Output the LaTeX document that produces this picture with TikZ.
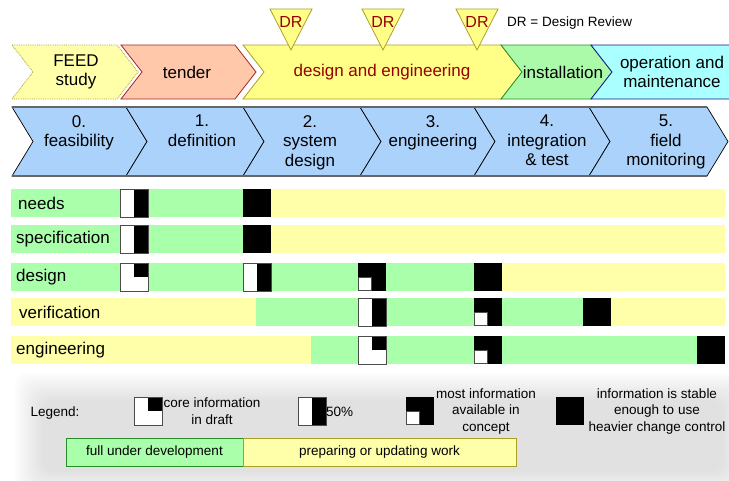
\documentclass[tikz,border=0pt]{standalone}
\usepackage{fontspec}
\setmainfont{Liberation Sans}
\usepackage{tikz}
\usetikzlibrary{positioning}
\definecolor{FeedFill}{RGB}{255,255,170}
\definecolor{TenderFill}{RGB}{255,200,170}
\definecolor{TenderLine}{RGB}{160,40,40}
\definecolor{DesignFill}{RGB}{255,255,136}
\definecolor{OliveLine}{RGB}{170,160,40}
\definecolor{InstallFill}{RGB}{170,250,170}
\definecolor{GreenLine}{RGB}{40,140,40}
\definecolor{OpsFill}{RGB}{170,255,255}
\definecolor{OpsLine}{RGB}{20,20,150}
\definecolor{StepFill}{RGB}{170,210,250}
\definecolor{DarkRed}{RGB}{153,0,0}
\definecolor{BarGreen}{RGB}{170,255,170}
\definecolor{BarYellow}{RGB}{255,255,170}
\tikzstyle{phasetext} = [font=\fontsize{17}{19.5}\selectfont, align=center, inner sep=0pt]
\tikzstyle{steptext} = [phasetext, anchor=north]
\tikzstyle{rowtext} = [font=\fontsize{17}{19}\selectfont, anchor=west, inner sep=0pt]
\tikzstyle{legendtext} = [font=\fontsize{13.5}{16.5}\selectfont, align=center, inner sep=0pt]
\tikzstyle{drtext} = [font=\fontsize{16}{18}\selectfont, text=DarkRed, inner sep=0pt]
\tikzstyle{drmark} = [fill=DesignFill, draw=OliveLine, line width=0.8pt]
\tikzstyle{stepbox} = [fill=StepFill, draw=black, line width=0.7pt]
\tikzstyle{stepedge} = [draw=black!60, line width=1.6pt]
\tikzstyle{iconline} = [draw=black!70, line width=0.9pt]
\tikzstyle{legendbox} = [legendtext, line width=0.9pt, minimum height=28pt]
% chevron: style, left x, right x, top y, bottom y, middle y
\newcommand{\chev}[6]{\filldraw[#1] (#2,#4) -- (#3,#4) -- (#3+21,#6) -- (#3,#5) -- (#2,#5) -- (#2+21,#6) -- cycle;}
% status icons, given by their top left corner
\newcommand{\icdraft}[2]{\fill[white] (#1,#2) rectangle ++(28,28); \fill[black] (#1+14,#2) rectangle ++(14,14); \draw[iconline] (#1,#2) rectangle ++(28,28);}
\newcommand{\ichalf}[2]{\fill[white] (#1,#2) rectangle ++(14,28); \fill[black] (#1+14,#2) rectangle ++(14,28); \draw[iconline] (#1,#2) rectangle ++(28,28);}
\newcommand{\icmost}[2]{\fill[black] (#1,#2) rectangle ++(28,28); \filldraw[white, draw=black!70, line width=0.6pt] (#1+0.5,#2+14) rectangle ++(13,13.5);}
\newcommand{\icstable}[2]{\fill[black] (#1,#2) rectangle ++(28,28);}

\begin{document}
\begin{tikzpicture}[x=1pt, y=-1pt]
  \useasboundingbox (0,0) rectangle (729,480);

  % project phases
  \chev{fill=FeedFill, draw=OliveLine, densely dotted, line width=0.8pt}{12}{117}{45}{99}{72}
  \chev{fill=TenderFill, draw=TenderLine, line width=0.8pt}{121}{235}{45}{99}{72}
  \chev{fill=DesignFill, draw=OliveLine, line width=0.8pt}{243}{501}{45}{99}{72}
  \chev{fill=InstallFill, draw=GreenLine, line width=0.8pt}{501}{591}{45}{99}{72}
  \filldraw[fill=OpsFill, draw=OpsLine, line width=0.8pt] (591,45) -- (730,45) -- (730,99) -- (591,99) -- (612,72) -- cycle;
  \node (feed) [phasetext] at (76,72) {FEED\\study};
  \node (tender) [phasetext] at (187,72) {tender};
  \node (designeng) [phasetext, text=DarkRed] at (382,72) {design and engineering};
  \node (install) [phasetext] at (563,72) {installation};
  \node (operation) [phasetext] at (672,72) {operation and\\maintenance};

  % design reviews
  \filldraw[drmark] (270,9) -- (312,9) -- (291,50) -- cycle;
  \filldraw[drmark] (362,9) -- (404,9) -- (383,50) -- cycle;
  \filldraw[drmark] (456,9) -- (498,9) -- (477,50) -- cycle;
  \node (dr1) [drtext] at (291,22) {DR};
  \node (dr2) [drtext] at (383,22) {DR};
  \node (dr3) [drtext] at (477,22) {DR};
  \node (drnote) [legendtext, anchor=west] at (507,23) {DR = Design Review};

  % life cycle steps
  \chev{stepbox}{12}{126}{107}{176}{141.5}
  \chev{stepbox}{126}{243}{107}{176}{141.5}
  \chev{stepbox}{243}{360}{107}{176}{141.5}
  \chev{stepbox}{360}{474}{107}{176}{141.5}
  \chev{stepbox}{474}{589}{107}{176}{141.5}
  \chev{stepbox}{589}{707}{107}{176}{141.5}
  \draw[stepedge] (12,107) -- (707,107);
  \draw[stepedge] (12,176) -- (707,176);
  \node (feasibility) [steptext] at (79,115) {0.\\feasibility};
  \node (definition) [steptext] at (202,115) {1.\\definition};
  \node (sysdesign) [steptext] at (310,115) {2.\\system\\design};
  \node (engineering) [steptext] at (433,115) {3.\\engineering};
  \node (integration) [steptext] at (547,115) {4.\\integration\\\& test};
  \node (monitoring) [steptext] at (666,115) {5.\\field\\monitoring};

  % needs
  \fill[BarGreen] (11,189) rectangle (271,217);
  \fill[BarYellow] (271,189) rectangle (725,217);
  \ichalf{120}{189} \icstable{243}{189}
  \node (needs) [rowtext] at (18,203) {needs};

  % specification
  \fill[BarGreen] (11,225) rectangle (271,253);
  \fill[BarYellow] (271,225) rectangle (725,253);
  \ichalf{120}{225} \icstable{243}{225}
  \node (specification) [rowtext] at (16,239) {specification};

  % design
  \fill[BarGreen] (11,263) rectangle (502,291);
  \fill[BarYellow] (502,263) rectangle (725,291);
  \icdraft{120}{263} \ichalf{243}{263} \icmost{358}{263} \icstable{474}{263}
  \node (design) [rowtext] at (16,277) {design};

  % verification
  \fill[BarYellow] (11,298) rectangle (256,326);
  \fill[BarGreen] (256,298) rectangle (611,326);
  \fill[BarYellow] (611,298) rectangle (725,326);
  \ichalf{358}{298} \icmost{474}{298} \icstable{583}{298}
  \node (verification) [rowtext] at (19,312) {verification};

  % engineering
  \fill[BarYellow] (11,336) rectangle (311,364);
  \fill[BarGreen] (311,336) rectangle (725,364);
  \icdraft{358}{336} \icmost{474}{336} \icstable{697}{336}
  \node (engrow) [rowtext] at (16,350) {engineering};

  % legend, on a soft grey patch
  \foreach \d in {0,2,...,28}
    \fill[black, opacity=0.0065, rounded corners=14pt] (14+\d,372+\d) rectangle (752-\d,500-\d);
  \node (legend) [legendtext] at (55,413) {Legend:};
  \icdraft{134}{397}
  \node (ldraft) [legendtext] at (212,411) {core information\\in draft};
  \ichalf{298}{397}
  \node (lhalf) [legendtext, anchor=west] at (326,412) {50\%};
  \icmost{406}{397}
  \node (lmost) [legendtext] at (486,411.5) {most information\\available in\\concept};
  \icstable{556}{397}
  \node (lstable) [legendtext] at (657,411.5) {information is stable\\enough to use\\heavier change control};
  \node (lfull) [legendbox, fill=BarGreen, draw=GreenLine, minimum width=177pt] at (154.5,452) {full under development};
  \node (lprep) [legendbox, fill=BarYellow, draw=OliveLine, minimum width=273pt] at (379.5,452) {preparing or updating work};

\end{tikzpicture}
\end{document}
